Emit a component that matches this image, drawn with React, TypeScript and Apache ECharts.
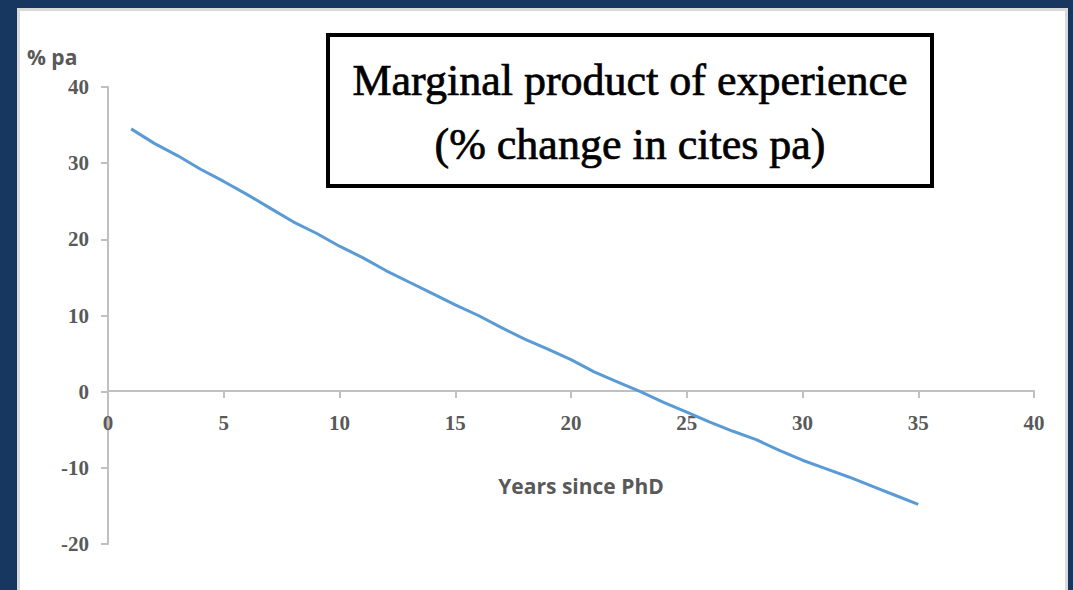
import React, { useEffect, useRef } from "react";
import * as echarts from "echarts";

const years = [1, 2, 3, 4, 5, 6, 7, 8, 9, 10, 11, 12, 13, 14, 15, 16, 17, 18, 19, 20, 21, 22, 23, 24, 25, 26, 27, 28, 29, 30, 31, 32, 33, 34, 35];
const marginalProduct = [34.5, 32.6, 31.0, 29.2, 27.6, 25.9, 24.1, 22.3, 20.8, 19.1, 17.6, 15.9, 14.4, 12.9, 11.4, 10.0, 8.4, 6.9, 5.6, 4.2, 2.6, 1.3, 0.0, -1.4, -2.7, -4.0, -5.2, -6.3, -7.7, -9.0, -10.1, -11.2, -12.4, -13.6, -14.8];
const titleLines = ["Marginal product of experience", "(% change in cites pa)"];
const yAxisTitle = "% pa";
const xAxisTitle = "Years since PhD";

export default function App() {
  const ref = useRef<HTMLDivElement>(null);
  useEffect(() => {
    document.body.style.margin = "0";
    const chart = echarts.init(ref.current!, null, { renderer: "svg" });
    const labelStyle = {
      color: "#595959",
      fontFamily: "Liberation Serif",
      fontWeight: "bold" as const,
      fontSize: 21,
    };
    const titleStyle = {
      fill: "#000000",
      stroke: "#000000",
      lineWidth: 0.7,
      font: "44px 'Liberation Serif'",
      align: "center" as const,
      verticalAlign: "middle" as const,
    };
    chart.setOption({
      animation: false,
      backgroundColor: "#173760",
      grid: { left: 108, right: 39, top: 87, bottom: 46 },
      xAxis: {
        type: "value",
        min: 0,
        max: 40,
        interval: 5,
        offset: -153,
        splitLine: { show: false },
        axisLine: { onZero: false, lineStyle: { color: "#c0c0c0", width: 2 } },
        axisTick: { show: true, length: 7, lineStyle: { color: "#c0c0c0", width: 2 } },
        axisLabel: { ...labelStyle, margin: 21 },
      },
      yAxis: {
        type: "value",
        min: -20,
        max: 40,
        interval: 10,
        splitLine: { show: false },
        axisLine: { show: true, lineStyle: { color: "#c0c0c0", width: 2 } },
        axisTick: { show: true, length: 7, lineStyle: { color: "#c0c0c0", width: 2 } },
        axisLabel: { ...labelStyle, margin: 19 },
      },
      graphic: [
        {
          type: "rect",
          z: -10,
          silent: true,
          shape: { x: 18.5, y: 9.5, width: 1048, height: 600 },
          style: { fill: "#ffffff", stroke: "#d9d9d9", lineWidth: 3 },
        },
        {
          type: "rect",
          z: 10,
          shape: { x: 328, y: 35, width: 604, height: 151 },
          style: { fill: "#ffffff", stroke: "#000000", lineWidth: 4 },
        },
        {
          type: "text",
          z: 11,
          x: 630,
          y: 80,
          style: { ...titleStyle, text: titleLines[0] },
        },
        {
          type: "text",
          z: 11,
          x: 630,
          y: 144,
          style: { ...titleStyle, text: titleLines[1] },
        },
        {
          type: "text",
          z: 11,
          x: 27,
          y: 57,
          style: {
            text: yAxisTitle,
            fill: "#595959",
            font: "bold 21px 'Open Sans'",
            align: "left",
            verticalAlign: "middle",
          },
        },
        {
          type: "text",
          z: 11,
          x: 581,
          y: 486,
          style: {
            text: xAxisTitle,
            fill: "#595959",
            font: "bold 21px 'Open Sans'",
            align: "center",
            verticalAlign: "middle",
          },
        },
      ],
      series: [
        {
          type: "line",
          data: years.map((y, i) => [y, marginalProduct[i]]),
          showSymbol: false,
          symbol: "none",
          lineStyle: { color: "#5b9bd5", width: 3 },
          z: 5,
        },
      ],
    });
    return () => chart.dispose();
  }, []);
  return <div ref={ref} style={{ position: "fixed", left: 0, top: 0, width: 1073, height: 590 }} />;
}
